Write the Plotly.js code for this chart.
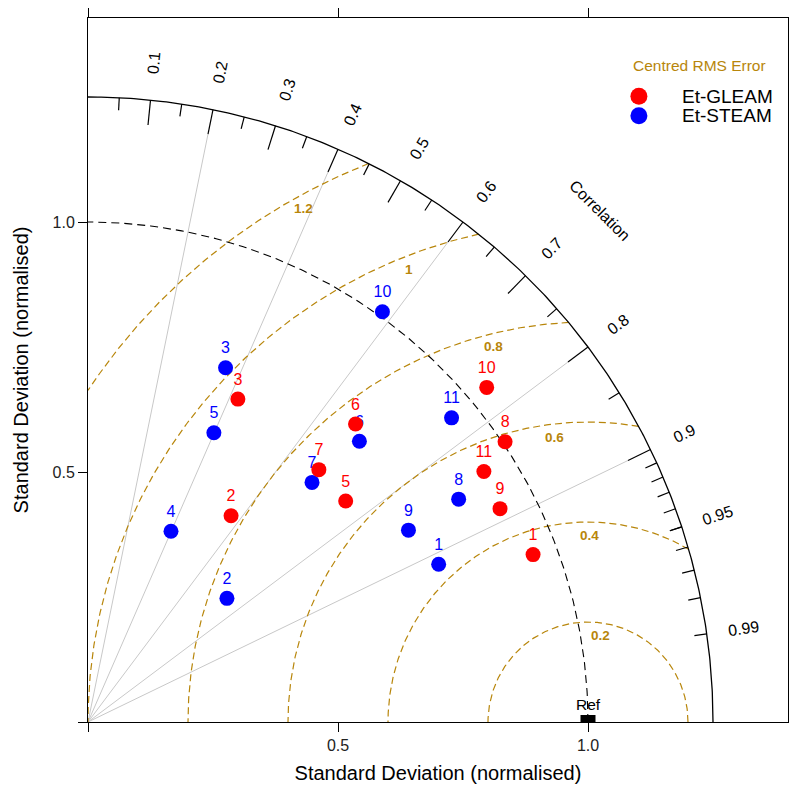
<!DOCTYPE html>
<html><head><meta charset="utf-8">
<script src="https://cdn.plot.ly/plotly-3.0.1.min.js"></script>
<style>body{margin:0;background:#fff}</style>
</head><body><div id="chart" style="width:789px;height:792px"></div>
<script>
// ---- data (standard deviation normalised, correlation) ----
const seriesNames = ["Et-GLEAM", "Et-STEAM"];
const gleamLabels = ["1","2","3","5","6","7","8","9","10","11"];
const gleamSD     = [0.951,0.502,0.712,0.679,0.801,0.684,1.005,0.928,1.041,0.937];
const gleamR      = [0.936,0.570,0.421,0.759,0.668,0.675,0.830,0.888,0.766,0.845];
const steamLabels = ["1","2","3","4","5","6","7","8","9","10","11"];
const steamSD     = [0.769,0.372,0.760,0.416,0.631,0.781,0.656,0.865,0.747,1.010,0.948];
const steamR      = [0.912,0.747,0.362,0.399,0.399,0.695,0.683,0.857,0.858,0.583,0.767];
const refSD = 1.0;
const maxSD = 1.25;
const corrGrid = [0.2,0.4,0.6,0.8,0.9];
const corrLabelVals = [0.1,0.2,0.3,0.4,0.5,0.6,0.7,0.8,0.9,0.95,0.99];
const corrLabelText = ["0.1","0.2","0.3","0.4","0.5","0.6","0.7","0.8","0.9","0.95","0.99"];
const rmsLevels = [0.2,0.4,0.6,0.8,1.0,1.2];
const rmsText   = ["0.2","0.4","0.6","0.8","1","1.2"];
const sdTickVals = [0, 0.5, 1.0];
const sdTickText = ["", "0.5", "1.0"];

// ---- styles ----
const GOLD = "#B8860B", RED = "#FF0000", BLUE = "#0000FF";
const FONT = "Liberation Sans, Arial, sans-serif";

const traces = [];
function lineTrace(xs, ys, color, width, dash) {
  return {x: xs, y: ys, mode: "lines", type: "scatter", hoverinfo: "skip",
    showlegend: false, line: {color: color, width: width, dash: dash || "solid"}};
}
// correlation grid lines
(function(){
  const xs = [], ys = [];
  corrGrid.forEach(r => {
    const a = Math.acos(r);
    xs.push(0, 0.96*maxSD*Math.cos(a), null);
    ys.push(0, 0.96*maxSD*Math.sin(a), null);
  });
  traces.push(lineTrace(xs, ys, "#C8C8C8", 1));
})();
// RMS arcs centred on reference
rmsLevels.forEach(R => {
  let t0 = 0, t1 = Math.PI;
  if (R > maxSD - refSD) {
    const xb = (maxSD*maxSD + refSD*refSD - R*R) / (2*refSD);
    t0 = Math.acos((xb - refSD)/R);
  }
  if (R >= refSD) t1 = Math.acos(-refSD/R);
  const xs = [], ys = [];
  const n = 300;
  for (let i = 0; i <= n; i++) {
    const t = t0 + (t1 - t0)*i/n;
    xs.push(refSD + R*Math.cos(t)); ys.push(R*Math.sin(t));
  }
  traces.push(lineTrace(xs, ys, GOLD, 1.2, "7px,4px"));
});
// SD = ref arc
(function(){
  const xs = [], ys = [];
  for (let i = 0; i <= 200; i++) { const t = Math.PI/2*i/200; xs.push(refSD*Math.cos(t)); ys.push(refSD*Math.sin(t)); }
  traces.push(lineTrace(xs, ys, "#000000", 1.1, "8px,5px"));
})();
// outer arc
(function(){
  const xs = [], ys = [];
  for (let i = 0; i <= 300; i++) { const t = Math.PI/2*i/300; xs.push(maxSD*Math.cos(t)); ys.push(maxSD*Math.sin(t)); }
  traces.push(lineTrace(xs, ys, "#000000", 1.3));
})();
// ticks on outer arc
(function(){
  const xs = [], ys = [];
  const seg = (r, f) => { const a = Math.acos(r); xs.push(maxSD*Math.cos(a), f*maxSD*Math.cos(a), null); ys.push(maxSD*Math.sin(a), f*maxSD*Math.sin(a), null); };
  for (let k = 1; k <= 9; k++) seg(k/10, 0.96);
  for (let k = 0; k <= 9; k++) seg(0.05 + k/10, 0.98);
  for (let k = 1; k <= 9; k++) seg(0.9 + k/100, 0.98);
  traces.push(lineTrace(xs, ys, "#000000", 1.2));
})();

// data points
function pts(sd, r, labels, color, name) {
  return {
    type: "scatter", mode: "markers+text", name: name, showlegend: false,
    x: sd.map((s,i) => s*r[i]),
    y: sd.map((s,i) => s*Math.sqrt(1 - r[i]*r[i])),
    text: labels, textposition: "top center",
    textfont: {family: FONT, size: 16, color: color},
    marker: {color: color, size: 15, line: {width: 0}},
    cliponaxis: false, hoverinfo: "text"
  };
}
traces.push(pts(steamSD, steamR, steamLabels, BLUE, seriesNames[1]));
traces.push(pts(gleamSD, gleamR, gleamLabels, RED, seriesNames[0]));

// annotations
const ann = [];
corrLabelVals.forEach((c, i) => {
  const a = Math.acos(c);
  ann.push({x: 1.325*Math.cos(a), y: 1.325*Math.sin(a), xref: "x", yref: "y",
    xanchor: "center", yanchor: "middle",
    text: corrLabelText[i], showarrow: false, textangle: -a*180/Math.PI,
    font: {family: FONT, size: 16, color: "#000"}});
});
ann.push({x: 1.448*Math.cos(Math.PI/4), y: 1.448*Math.sin(Math.PI/4), xref: "x", yref: "y",
  xanchor: "center", yanchor: "middle",
  text: "Correlation", showarrow: false, textangle: 45, font: {family: FONT, size: 16, color: "#000"}});
rmsLevels.forEach((R, i) => {
  const ang = (82 + 7.4*i) * Math.PI/180;
  const rr = R - 0.026;
  ann.push({x: refSD + rr*Math.cos(ang), y: rr*Math.sin(ang), xref: "x", yref: "y",
    xanchor: "center", yanchor: "middle",
    text: "<b>" + rmsText[i] + "</b>", showarrow: false, font: {family: FONT, size: 13.5, color: GOLD}});
});
ann.push({x: refSD, y: 0.014, xref: "x", yref: "y", xanchor: "center", yanchor: "bottom", text: "Ref", showarrow: false,
  font: {family: FONT, size: 15.5, color: "#000"}});
// legend
ann.push({x: 0.873, y: 0.932, xref: "paper", yref: "paper", xanchor: "center", yanchor: "middle",
  text: "Centred RMS Error", showarrow: false, font: {family: FONT, size: 15.5, color: GOLD}});
const legY = [0.889, 0.861], legC = [RED, BLUE];
seriesNames.forEach((nm, i) => {
  ann.push({x: 0.846, y: legY[i], xref: "paper", yref: "paper", xanchor: "left", yanchor: "middle",
    text: nm, showarrow: false, font: {family: FONT, size: 19, color: "#000"}});
});
const shapes = [];
seriesNames.forEach((nm, i) => {
  shapes.push({type: "circle", xref: "paper", yref: "paper", xsizemode: "pixel", ysizemode: "pixel",
    xanchor: 0.787, yanchor: legY[i], x0: -8.5, x1: 8.5, y0: -8.5, y1: 8.5,
    fillcolor: legC[i], line: {width: 0}});
});
// reference marker
shapes.push({type: "rect", xref: "x", yref: "y", x0: refSD - 0.015, x1: refSD + 0.015, y0: 0, y1: 0.014,
  fillcolor: "#000", line: {width: 0}});

const axisBase = {
  showgrid: false, zeroline: false, showline: true, linecolor: "#000", linewidth: 1,
  mirror: "ticks", ticks: "outside", ticklen: 9, tickcolor: "#000",
  tickvals: sdTickVals, ticktext: sdTickText,
  tickfont: {family: FONT, size: 16, color: "#222"}
};
const layout = {
  width: 789, height: 792, paper_bgcolor: "#fff", plot_bgcolor: "#fff",
  margin: {l: 88, r: 1, t: 18, b: 70}, showlegend: false,
  xaxis: Object.assign({}, axisBase, {range: [0, 1.4],
    title: {text: "Standard Deviation (normalised)", font: {family: FONT, size: 20, color: "#000"}, standoff: 12}}),
  yaxis: Object.assign({}, axisBase, {range: [0, 1.408],
    title: {text: "Standard Deviation (normalised)", font: {family: FONT, size: 20, color: "#000"}, standoff: 18}}),
  annotations: ann, shapes: shapes
};
Plotly.newPlot("chart", traces, layout, {displayModeBar: false, staticPlot: true});
</script></body></html>
